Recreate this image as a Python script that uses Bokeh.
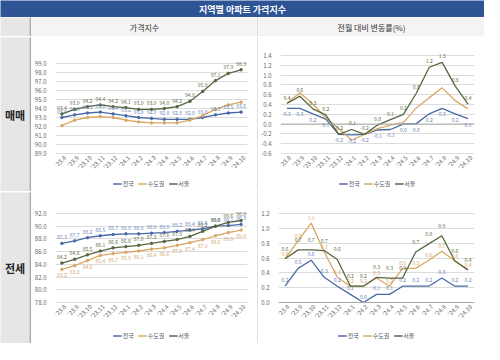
import math
from bokeh.plotting import figure
from bokeh.models import (ColumnDataSource, Legend, LegendItem, Range1d, FactorRange,
                          Label, LabelSet, Span, FixedTicker, PrintfTickFormatter)
from bokeh.layouts import column, row
from bokeh.embed import file_html
from bokeh.resources import INLINE
from bokeh.core.properties import value

FONT = "Noto Sans CJK KR"

months = ["'23.8", "'23.9", "'23.10", "'23.11", "'23.12", "'24.1", "'24.2", "'24.3",
          "'24.4", "'24.5", "'24.6", "'24.7", "'24.8", "'24.9", "'24.10"]
series_names = ["전국", "수도권", "서울"]

# 매매 가격지수
sale_idx_nat = [93.0, 93.3, 93.5, 93.6, 93.4, 93.2, 93.0, 92.9, 92.8, 92.8, 92.8, 93.0, 93.3, 93.5, 93.6]
sale_idx_cap = [92.1, 92.7, 93.0, 93.1, 93.0, 92.7, 92.5, 92.4, 92.4, 92.4, 92.7, 93.2, 93.9, 94.4, 94.7]
sale_idx_seoul = [93.4, 93.9, 94.2, 94.4, 94.2, 94.1, 93.9, 93.9, 94.0, 94.2, 94.8, 95.9, 97.1, 97.9, 98.3]
# 매매 전월 대비 변동률(%)
sale_chg_nat = [0.32, 0.32, 0.21, 0.10, -0.21, -0.22, -0.21, -0.12, -0.11, 0.0, 0.01, 0.21, 0.32, 0.21, 0.11]
sale_chg_cap = [0.43, 0.64, 0.41, 0.13, -0.09, -0.33, -0.21, -0.09, -0.02, 0.03, 0.33, 0.54, 0.74, 0.48, 0.31]
sale_chg_seoul = [0.42, 0.57, 0.31, 0.19, -0.21, -0.11, -0.21, -0.02, 0.09, 0.2, 0.63, 1.16, 1.26, 0.78, 0.41]
# 전세 가격지수
jeon_idx_nat = [87.3, 87.7, 88.2, 88.5, 88.7, 88.8, 88.8, 88.9, 89.0, 89.2, 89.4, 89.6, 90.0, 90.1, 90.3]
jeon_idx_cap = [83.2, 83.8, 84.6, 85.4, 85.7, 85.9, 86.1, 86.4, 86.6, 87.0, 87.4, 87.9, 88.5, 89.0, 89.4]
jeon_idx_seoul = [84.2, 84.8, 85.5, 86.1, 86.6, 86.8, 87.0, 87.3, 87.6, 87.9, 88.4, 89.2, 90.0, 90.6, 90.9]
# 전세 전월 대비 변동률(%)
jeon_chg_nat = [0.22, 0.46, 0.57, 0.34, 0.22, 0.11, 0.0, 0.11, 0.11, 0.22, 0.22, 0.22, 0.33, 0.22, 0.22]
jeon_chg_cap = [0.59, 0.83, 1.07, 0.68, 0.34, 0.22, 0.22, 0.33, 0.22, 0.46, 0.46, 0.57, 0.69, 0.56, 0.44]
jeon_chg_seoul = [0.59, 0.71, 0.71, 0.70, 0.58, 0.22, 0.22, 0.34, 0.33, 0.33, 0.68, 0.79, 0.90, 0.56, 0.44]

idx_ticks_sale = [89, 90, 91, 92, 93, 94, 95, 96, 97, 98, 99]
chg_ticks_sale = [-0.6, -0.4, -0.2, 0.0, 0.2, 0.4, 0.6, 0.8, 1.0, 1.2, 1.4]
idx_ticks_jeon = [78, 80, 82, 84, 86, 88, 90, 92]
chg_ticks_jeon = [0.0, 0.2, 0.4, 0.6, 0.8, 1.0, 1.2]

COLORS = {"전국": "#4a69a8", "수도권": "#d8a866", "서울": "#56663f"}
LABEL_COLORS = {"전국": "#6680b6", "수도권": "#d4a46c", "서울": "#5a6a45"}
GREY_CELL = "#e7e6e6"
HEAD_CELL = "#f4f4f4"


def fmt(v):
    s = f"{v:.1f}"
    return "0.0" if s == "-0.0" else s


def cell(w, h, bg, text=None, size="8px", bold=False, color="#333333"):
    p = figure(width=w, height=h, x_range=Range1d(0, 1), y_range=Range1d(0, 1),
               x_axis_location=None, y_axis_location=None,
               output_backend="svg", toolbar_location=None,
               min_border_left=0, min_border_right=0, min_border_top=0, min_border_bottom=0)
    p.grid.visible = False
    p.outline_line_color = None
    p.background_fill_color = bg
    p.border_fill_color = bg
    if text:
        p.add_layout(Label(x=0.5, y=0.5, text=text, text_align="center", text_baseline="middle",
                           text_font=FONT, text_font_size=size,
                           text_font_style="bold" if bold else "normal", text_color=color))
    return p


def legend_cell(w, h, data):
    # the series are drawn here far outside the visible y-range: only their legend shows
    p = figure(width=w, height=h, x_range=FactorRange(factors=months),
               y_range=Range1d(-1000, -999),
               x_axis_location=None, y_axis_location=None,
               output_backend="svg", toolbar_location=None,
               min_border_left=0, min_border_right=0, min_border_top=0, min_border_bottom=0)
    p.grid.visible = False
    p.outline_line_color = None
    p.background_fill_color = "white"
    p.border_fill_color = "white"
    items = []
    for name, vals in data:
        r = p.line(x=months, y=vals, line_color=COLORS[name], line_width=1.3)
        items.append(LegendItem(label=value(name), renderers=[r]))
    p.add_layout(Legend(items=items, orientation="horizontal", location="center",
                        label_text_font=FONT, label_text_font_size="6px",
                        label_text_color="#595959", glyph_width=9, glyph_height=6,
                        label_standoff=1, label_width=6, spacing=4, padding=0, margin=0,
                        border_line_color=None, background_fill_alpha=0))
    return p


def chart(w, h, ticks, data, offsets, markers, top_px, label_px, zero=False):
    y0, y1 = ticks[0], ticks[-1]
    upp = (y1 - y0) / (h - top_px - label_px)          # data units per pixel
    p = figure(width=w, height=h, x_range=FactorRange(factors=months),
               y_range=Range1d(y0 - label_px * upp, y1 + top_px * upp),
               x_axis_location=None,
               output_backend="svg", toolbar_location=None,
               min_border_left=3, min_border_right=10, min_border_top=0, min_border_bottom=0)
    p.outline_line_color = None
    p.background_fill_color = "white"
    p.border_fill_color = "white"
    p.xgrid.grid_line_color = None
    p.ygrid.grid_line_color = "#dcdcdc"
    p.yaxis.ticker = FixedTicker(ticks=ticks)
    p.yaxis.formatter = PrintfTickFormatter(format="%.1f")
    p.yaxis.major_tick_line_color = None
    p.yaxis.minor_tick_line_color = None
    p.yaxis.axis_line_color = None
    p.yaxis.major_label_text_font = FONT
    p.yaxis.major_label_text_font_size = "6px"
    p.yaxis.major_label_text_color = "#666666"
    p.yaxis.major_label_standoff = 3
    if zero:
        p.add_layout(Span(location=0, dimension="width", line_color="#a8a8a8", line_width=1))
    # category labels along the bottom of the plot, slanted like the original
    cat_src = ColumnDataSource(dict(x=months, y=[y0] * len(months), t=months))
    p.add_layout(LabelSet(x="x", y="y", text="t", source=cat_src, angle=math.pi / 4,
                          x_offset=3, y_offset=-3, text_align="right", text_baseline="middle",
                          text_font=value(FONT), text_font_size="6px", text_color="#666666"))
    for name, vals in data:
        src = ColumnDataSource(dict(x=months, y=vals, t=[fmt(v) for v in vals]))
        p.line("x", "y", source=src, line_color=COLORS[name], line_width=1.3)
        if markers:
            p.scatter("x", "y", source=src, size=2.5, color=COLORS[name])
        if offsets.get(name) is not None:
            p.add_layout(LabelSet(x="x", y="y", text="t", source=src, y_offset=offsets[name],
                                  text_font=value(FONT), text_font_size="5px",
                                  text_color=LABEL_COLORS[name], text_align="center",
                                  text_baseline="middle"))
    return p


d_tl = [("전국", sale_idx_nat), ("수도권", sale_idx_cap), ("서울", sale_idx_seoul)]
d_tr = [("전국", sale_chg_nat), ("수도권", sale_chg_cap), ("서울", sale_chg_seoul)]
d_bl = [("전국", jeon_idx_nat), ("수도권", jeon_idx_cap), ("서울", jeon_idx_seoul)]
d_br = [("전국", jeon_chg_nat), ("수도권", jeon_chg_cap), ("서울", jeon_chg_seoul)]

tl = chart(226, 138, idx_ticks_sale, d_tl, {"전국": 6, "서울": 6}, True, 26, 22)
tr = chart(226, 138, chg_ticks_sale, d_tr, {"전국": -6, "서울": 6}, False, 18, 22, zero=True)
bl = chart(226, 135, idx_ticks_jeon, d_bl, {"전국": 6, "수도권": -6, "서울": 6}, True, 21, 25)
br = chart(226, 135, chg_ticks_jeon, d_br, {"전국": 6, "수도권": 5, "서울": 10}, False, 21, 25,
           zero=True)

title = cell(484, 17, "#2f5496", "지역별 아파트 가격지수", "9px", True, "white")
header = row(cell(29, 19, GREY_CELL), cell(2, 19, "#a6a6a6"),
             cell(226, 19, HEAD_CELL, "가격지수", "8px"), cell(1, 19, "#c0c0c0"),
             cell(226, 19, HEAD_CELL, "전월 대비 변동률(%)", "8px"))
row1 = row(cell(29, 154, GREY_CELL, "매매", "11px", True, "#222222"), cell(2, 154, "#a6a6a6"),
           column(tl, legend_cell(226, 16, d_tl)), cell(1, 154, "#c0c0c0"),
           column(tr, legend_cell(226, 16, d_tr)))
row2 = row(cell(29, 151, GREY_CELL, "전세", "11px", True, "#222222"), cell(2, 151, "#a6a6a6"),
           column(bl, legend_cell(226, 16, d_bl)), cell(1, 151, "#c0c0c0"),
           column(br, legend_cell(226, 16, d_br)))

page = column(title, header, cell(484, 1, "#b0b0b0"), row1, cell(484, 1, "#b0b0b0"),
              row2, cell(484, 1, "#b0b0b0"))

open("out.html", "w").write(file_html(page, INLINE))
